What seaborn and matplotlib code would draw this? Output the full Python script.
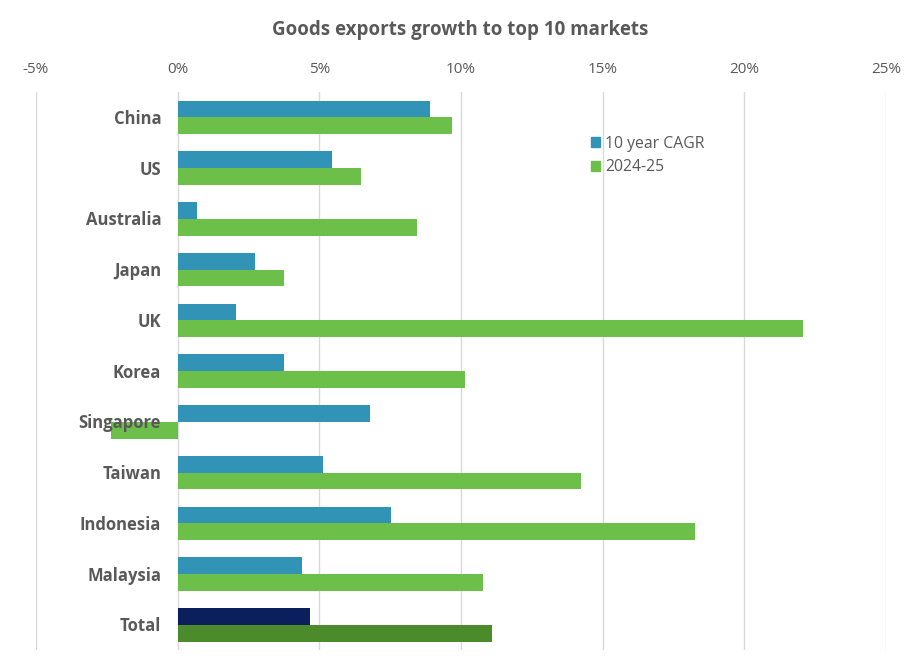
import matplotlib
matplotlib.use("Agg")
import matplotlib.pyplot as plt
import matplotlib.ticker as mticker
from matplotlib.patches import Patch
import seaborn as sns
import pandas as pd

markets = ["China", "US", "Australia", "Japan", "UK", "Korea", "Singapore",
           "Taiwan", "Indonesia", "Malaysia", "Total"]
cagr_10yr = [8.9, 5.45, 0.68, 2.72, 2.05, 3.75, 6.8, 5.15, 7.55, 4.38, 4.66]
growth_2425 = [9.67, 6.47, 8.44, 3.75, 22.07, 10.13, -2.35, 14.23, 18.27, 10.77, 11.09]
series = ["10 year CAGR", "2024-25"]

BLUE, GREEN = "#3194b7", "#6cc04a"
NAVY, DKGREEN = "#0b1f5c", "#4b8b2b"
GREY = "#595959"

df = pd.DataFrame({"market": markets * 2,
                   "series": [series[0]] * len(markets) + [series[1]] * len(markets),
                   "value": cagr_10yr + growth_2425})

sns.set_theme(style="white")
plt.rcParams["font.family"] = ["Open Sans", "DejaVu Sans"]

fig = plt.figure(figsize=(9.2, 6.71), dpi=100)
ax = fig.add_axes([0.039, 0.031, 0.924, 0.832])

sns.barplot(data=df, y="market", x="value", hue="series", order=markets,
            hue_order=series, palette=[BLUE, GREEN], orient="h", width=0.66,
            saturation=1, linewidth=0, ax=ax, legend=False)

# Total bars are drawn in darker shades
ax.containers[0][-1].set_facecolor(NAVY)
ax.containers[1][-1].set_facecolor(DKGREEN)

ax.set_xlim(-5, 25)
ax.set_ylim(len(markets) - 0.5, -0.5)
ax.xaxis.set_major_locator(mticker.MultipleLocator(5))
ax.xaxis.set_major_formatter(mticker.FuncFormatter(lambda x, _: f"{x:.0f}%"))
ax.xaxis.tick_top()
ax.tick_params(axis="x", length=0, pad=11, labelsize=11, labelcolor=GREY)
ax.grid(axis="x", color="#d9d9d9", linewidth=1)
ax.set_axisbelow(True)
ax.set_yticks([])
ax.set_xlabel(""); ax.set_ylabel("")
for s in ax.spines.values():
    s.set_visible(False)

for i, m in enumerate(markets):
    ax.text(-0.58, i + 0.03, m, ha="right", va="center", fontsize=12,
            fontweight="bold", color=GREY, zorder=5)

ax.legend(handles=[Patch(color=BLUE), Patch(color=GREEN)], labels=series,
          loc="upper left", bbox_to_anchor=(0.636, 0.947), frameon=False,
          handlelength=0.6, handleheight=0.6, handletextpad=0.3,
          labelspacing=0.5, fontsize=11.3, labelcolor=GREY)

fig.text(0.5, 0.955, "Goods exports growth to top 10 markets", ha="center",
         va="center", fontsize=13.5, fontweight="bold", color=GREY)

fig.savefig("out.png", dpi=100)
